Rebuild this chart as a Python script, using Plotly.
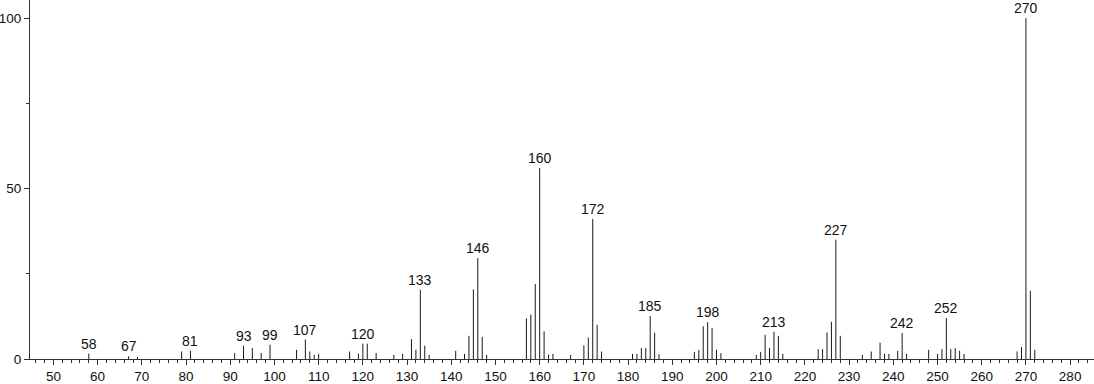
import plotly.graph_objects as go

mz = [58, 67, 69, 79, 81, 91, 93, 95, 97, 99, 105, 107, 108, 109, 110, 117, 119, 120, 121, 123,
      127, 129, 131, 132, 133, 134, 135, 141, 143, 144, 145, 146, 147, 148, 157, 158, 159, 160,
      161, 162, 163, 167, 170, 171, 172, 173, 174, 181, 182, 183, 184, 185, 186, 187, 195, 196,
      197, 198, 199, 200, 201, 209, 210, 211, 212, 213, 214, 215, 223, 224, 225, 226, 227, 228,
      233, 235, 237, 238, 239, 241, 242, 243, 248, 250, 251, 252, 253, 254, 255, 256, 268, 269,
      270, 271, 272]
intensity = [1.6, 0.8, 0.6, 2.2, 2.4, 1.7, 3.9, 3.2, 1.8, 4.2, 2.7, 5.7, 2.2, 1.2, 1.5, 2.2, 1.6, 4.5, 4.5, 1.8,
             1.2, 1.5, 5.8, 2.7, 20.3, 3.9, 1.2, 2.4, 1.5, 6.8, 20.4, 29.6, 6.5, 1.2, 11.9, 13.0, 22.0, 56.0,
             8.1, 1.3, 1.5, 1.2, 4.0, 6.3, 41.1, 10.0, 2.2, 1.5, 1.5, 3.2, 3.2, 12.6, 7.7, 1.4, 2.1, 2.6,
             9.6, 10.8, 9.1, 2.7, 1.7, 1.2, 2.1, 7.1, 3.2, 8.0, 6.8, 1.5, 2.9, 2.9, 7.8, 10.9, 35.0, 6.8,
             1.2, 2.2, 4.8, 1.5, 1.5, 2.4, 7.6, 1.5, 2.7, 1.5, 2.9, 12.0, 2.9, 3.2, 2.4, 1.5, 2.2, 3.5,
             100.0, 20.0, 2.7]
labeled = [58, 67, 81, 93, 99, 107, 120, 133, 146, 160, 172, 185, 198, 213, 227, 242, 252, 270]

xs, ys = [], []
for m, h in zip(mz, intensity):
    xs += [m, m, None]
    ys += [0, h, None]

fig = go.Figure()
fig.add_trace(go.Scatter(x=xs, y=ys, mode="lines",
                         line=dict(color="#1a1a1a", width=1), hoverinfo="skip",
                         showlegend=False))

lookup = dict(zip(mz, intensity))
for m in labeled:
    fig.add_annotation(x=m, y=lookup[m], text=str(m), showarrow=False,
                       yanchor="bottom", yshift=0,
                       font=dict(family="Liberation Sans, Arial", size=14, color="#111"))

fig.update_layout(
    width=1094, height=384,
    margin=dict(l=30, r=0, t=0, b=25, autoexpand=False),
    plot_bgcolor="white", paper_bgcolor="white",
    font=dict(family="Liberation Sans, Arial", size=14, color="#111"),
    xaxis=dict(range=[44.7, 285.4], tickmode="linear", tick0=50, dtick=10,
               ticks="outside", ticklen=5, tickcolor="#333", showgrid=False,
               zeroline=False, showline=True, linecolor="#333", linewidth=1,
               minor=dict(dtick=2, tick0=50, ticks="outside", ticklen=3, tickcolor="#333", showgrid=False),
               ticklabelstandoff=0, automargin=False, tickfont=dict(size=13.5)),
    yaxis=dict(range=[0, 105.3], tickvals=[0, 50, 100], ticks="outside", ticklen=5,
               tickcolor="#333", showgrid=False, zeroline=False, showline=True,
               linecolor="#333", linewidth=1,
               minor=dict(tickvals=[25, 75], ticks="outside", ticklen=3, tickcolor="#333", showgrid=False),
               ticklabelstandoff=0, automargin=False, tickfont=dict(size=13.5)),
)

fig.write_html("out.html")
